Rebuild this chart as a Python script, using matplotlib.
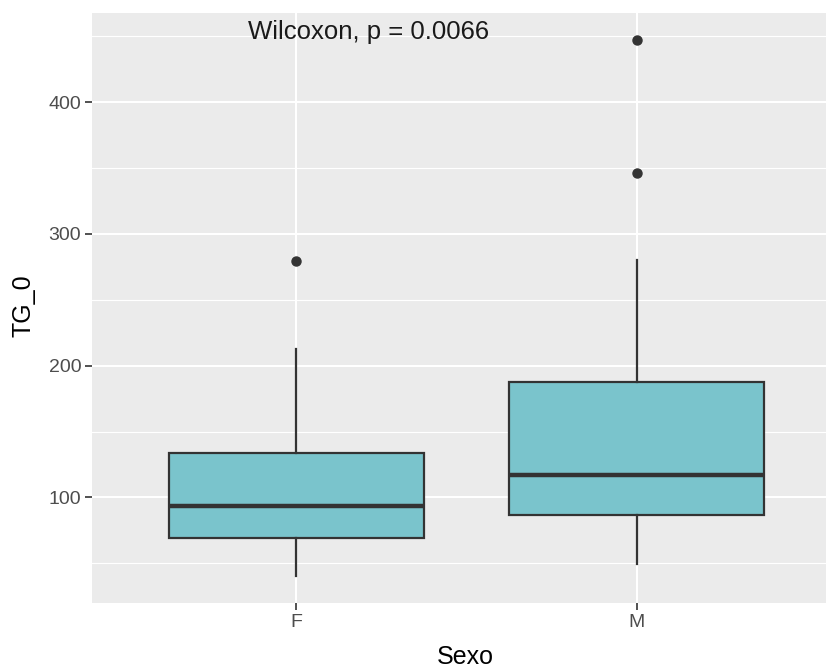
import matplotlib
matplotlib.use("Agg")
import matplotlib.pyplot as plt

plt.rcParams['font.family'] = ['Liberation Sans', 'DejaVu Sans']

categories = ["F", "M"]
whisker_low = [40.2, 49.6]
q1 = [69.1, 86.6]
median = [93.7, 117.2]
q3 = [133.7, 187.8]
whisker_high = [212.4, 280.3]
outliers = [[279.5], [345.8, 447.1]]
yticks = [100, 200, 300, 400]
minor_ticks = [50, 150, 250, 350, 450]
label_text = "Wilcoxon, p = 0.0066"
xlabel = "Sexo"
ylabel = "TG_0"

W, H = 826, 668
fig = plt.figure(figsize=(W / 100, H / 100), dpi=100)
left, right, top, bottom = 92.3, 841.0, 13.3, 603.3
ax = fig.add_axes([left / W, (H - bottom) / H, (right - left) / W, (bottom - top) / H])
ax.set_facecolor('#EBEBEB')
for s in ax.spines.values():
    s.set_visible(False)

positions = list(range(1, len(categories) + 1))
stats = []
for i, c in enumerate(categories):
    stats.append(dict(med=median[i], q1=q1[i], q3=q3[i], whislo=whisker_low[i],
                      whishi=whisker_high[i], fliers=outliers[i], label=c))

ax.bxp(stats, positions=positions, widths=0.75, patch_artist=True, showcaps=False,
       boxprops=dict(facecolor='#7AC4CC', edgecolor='#333333', linewidth=1.6),
       medianprops=dict(color='#333333', linewidth=3.2),
       whiskerprops=dict(color='#333333', linewidth=1.6),
       flierprops=dict(marker='o', markerfacecolor='#333333', markeredgecolor='#333333',
                       markersize=6.5, linestyle='none'),
       zorder=3)

ax.set_xlim(0.4, 2.6)
ax.set_ylim(19.65, 467.35)
ax.set_yticks(yticks)
ax.set_yticks(minor_ticks, minor=True)
ax.set_xticks(positions)
ax.set_xticklabels(categories)
ax.grid(True, which='major', color='white', linewidth=1.5, zorder=0)
ax.grid(True, which='minor', axis='y', color='white', linewidth=0.8, zorder=0)
ax.set_axisbelow(True)
ax.tick_params(axis='both', which='major', length=5, width=1.2, color='#333333',
               labelsize=14, labelcolor='#4D4D4D', pad=3)
ax.tick_params(axis='y', which='minor', length=0)

ax.text(0.857, 453, label_text, fontsize=18.5, color='#1a1a1a', ha='left', va='center', zorder=5)

fig.text(465 / W, 1 - 657 / H, xlabel, fontsize=18, ha='center', va='center', color='black')
fig.text(24 / W, 1 - 306 / H, ylabel, fontsize=18, ha='center', va='center', rotation=90, color='black')

fig.savefig('out.png', dpi=100)
